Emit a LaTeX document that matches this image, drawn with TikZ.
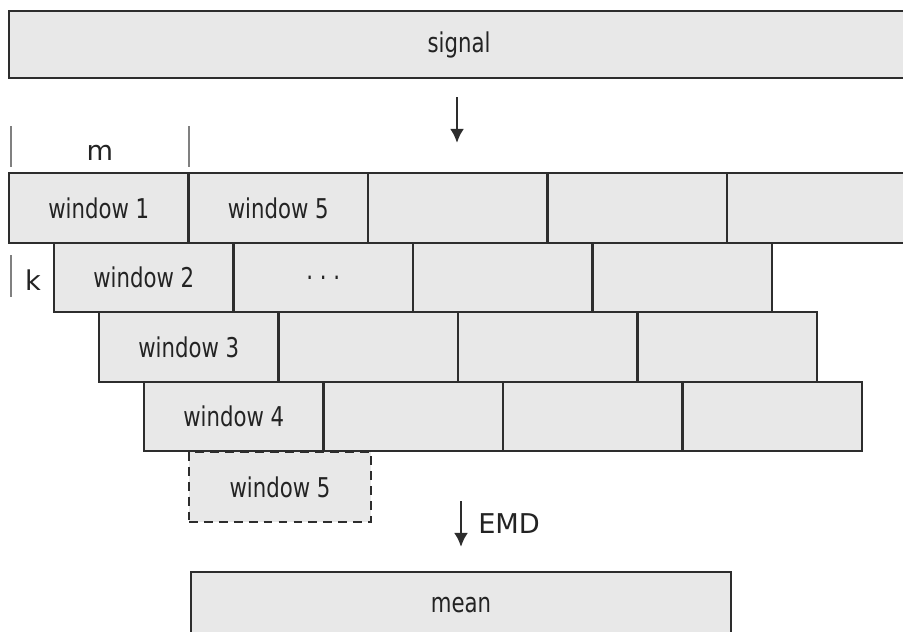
\documentclass[tikz,border=0pt]{standalone}
\usepackage{fontspec}
\setmainfont{DejaVu Sans}
\newfontfamily\winfont{DejaVu Sans}[FakeStretch=0.78]
\usetikzlibrary{arrows.meta}
\definecolor{wingray}{RGB}{232,232,232}
\definecolor{edgegray}{RGB}{45,45,45}
\definecolor{textgray}{RGB}{35,35,35}

\begin{document}
\begin{tikzpicture}[line width=1.4pt, >={Latex[length=8pt,width=8pt]}]
                \tikzstyle{every node}=[font=\fontsize{15.5}{18}\selectfont, text=textgray]
                \tikzstyle{win}=[draw=edgegray, fill=wingray, minimum width=3.59cm, minimum height=1.39cm, inner sep=0pt, font=\winfont\fontsize{15.5}{18}\selectfont]
                \useasboundingbox (0,0) rectangle (18.06,-12.64);
                \clip (0,0) rectangle (18.06,-12.64);
                \node[win, minimum width=18cm, minimum height=1.34cm] (signal) at (9.18,-0.89) {signal};

                % row 1
                \node[win] (wa) at (1.975,-4.16) {window 1};
                \node[win] (wb) at (5.565,-4.16) {window 5};
                \node[win] (wc) at (9.155,-4.16) {};
                \node[win] (wd) at (12.745,-4.16) {};
                \node[win] (we) at (16.335,-4.16) {};
                % row 2
                \node[win] (xa) at (2.875,-5.55) {window 2};
                \node[win] (xb) at (6.465,-5.55) {.\ .\ .};
                \node[win] (xc) at (10.055,-5.55) {};
                \node[win] (xd) at (13.645,-5.55) {};
                % row 3
                \node[win] (ya) at (3.775,-6.94) {window 3};
                \node[win] (yb) at (7.365,-6.94) {};
                \node[win] (yc) at (10.955,-6.94) {};
                \node[win] (yd) at (14.545,-6.94) {};
                % row 4
                \node[win] (za) at (4.675,-8.33) {window 4};
                \node[win] (zb) at (8.265,-8.33) {};
                \node[win] (zc) at (11.855,-8.33) {};
                \node[win] (zd) at (15.445,-8.33) {};
                % next one
                \node[win, dash pattern=on 5pt off 3.5pt, minimum width=3.64cm] (wnext) at (5.6,-9.74) {window 5};

                \node[win, minimum width=10.8cm, minimum height=1.32cm] (mean) at (9.22,-12.1) {mean};

            \coordinate (sigout) at (9.14,-1.94);
            \coordinate (winin) at (9.14,-2.86);
            \coordinate (emdtop) at (9.22,-10.02);
            \coordinate (emdbot) at (9.22,-10.94);
            \draw[->, edgegray, line width=1.6pt] (sigout) -- (winin);
            \draw[->, edgegray, line width=1.6pt] (emdtop) -- node[right=0.2cm] {EMD} (emdbot);

            % m and k
            \coordinate (ma) at (0.22,-2.52);
            \coordinate (mb) at (0.22,-3.34);
            \coordinate (mc) at (3.78,-2.52);
            \coordinate (md) at (3.78,-3.34);
            \coordinate (ka) at (0.22,-5.1);
            \coordinate (kb) at (0.22,-5.94);
            \draw[gray, line width=1pt] (ma) -- (mb);
            \draw[gray, line width=1pt] (mc) -- (md);
            \draw[gray, line width=1pt] (ka) -- (kb);
            \node (m) at (2.0,-3.06) {m};
            \node (k) at (0.66,-5.6) {k};
          \end{tikzpicture}
\end{document}
